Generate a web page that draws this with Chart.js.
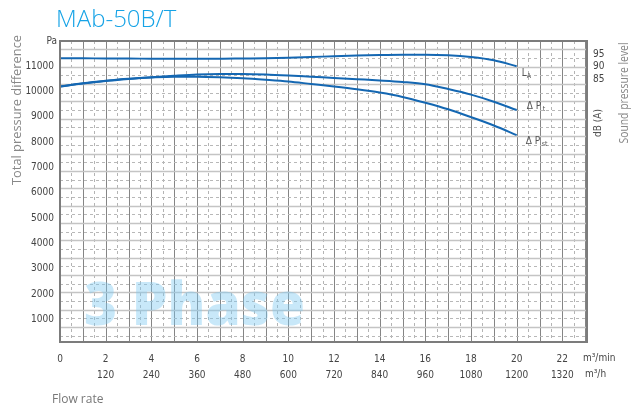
<!DOCTYPE html>
<html><head><meta charset="utf-8">
<script src="https://cdn.jsdelivr.net/npm/chart.js@4.4.1/dist/chart.umd.min.js"></script>
<style>html,body{margin:0;padding:0;background:#fff;}#wrap{width:632px;height:411px;}</style>
</head><body><div id="wrap"><canvas id="c" width="632" height="411"></canvas></div>
<script>
// ---- data ----
const flowRate = [0,1,2,3,4,5,6,7,8,9,10,11,12,13,14,15,16,17,18,19,20]; // m3/min
const totalPressure = [10200,10320,10420,10500,10570,10630,10680,10700,10700,10680,10640,10590,10540,10490,10440,10380,10290,10100,9880,9600,9270]; // Pa (ΔPt)
const staticPressure = [10200,10330,10430,10510,10560,10590,10590,10570,10530,10470,10400,10300,10200,10090,9960,9790,9560,9300,8990,8660,8280]; // Pa (ΔPst)
const soundLevel = [93.4,93.4,93.3,93.3,93.2,93.2,93.2,93.2,93.3,93.4,93.6,93.9,94.2,94.5,94.7,94.8,94.8,94.6,93.9,92.6,90.2]; // dB(A)
const xTicksMin = [0,2,4,6,8,10,12,14,16,18,20,22];
const xTicksHour = ['',120,240,360,480,600,720,840,960,1080,1200,1320];
const yTicksPa = [1000,2000,3000,4000,5000,6000,7000,8000,9000,10000,11000];
const yTicksDb = [85,90,95];

const NARROW = "'Liberation Sans Narrow','DejaVu Sans Condensed','Open Sans',sans-serif";
const SANS = "'Open Sans','Noto Sans',sans-serif";
const BLUE = '#1467b2';

const paper = {
  id: 'paper',
  beforeDatasetsDraw(chart) {
    const {ctx, chartArea: a, scales: {x, y}} = chart;
    ctx.save();
    ctx.beginPath(); ctx.rect(a.left, a.top, a.right - a.left, a.bottom - a.top); ctx.clip();
    // vertical grid: solid every 1, dashed at halves
    for (let v = 0.5; v < x.max; v += 0.5) {
      const px = Math.round(x.getPixelForValue(v)) + 0.5;
      const solid = Math.abs(v - Math.round(v)) < 1e-6;
      ctx.beginPath();
      ctx.setLineDash(solid ? [] : [3, 3]);
      ctx.strokeStyle = solid ? '#858585' : '#b4b4b4';
      ctx.lineWidth = 1;
      ctx.moveTo(px, a.top); ctx.lineTo(px, a.bottom); ctx.stroke();
    }
    // horizontal grid (70 mmAq paper grid)
    const step = 686.5;
    for (let k = 0.5; k * step < y.max; k += 0.5) {
      const v = k * step;
      if (v < y.min) continue;
      const py = Math.round(y.getPixelForValue(v)) + 0.5;
      const solid = Math.abs(k - Math.round(k)) < 1e-6;
      ctx.beginPath();
      ctx.setLineDash(solid ? [] : [3, 3]);
      ctx.strokeStyle = solid ? '#c4c4c4' : '#b8b8b8';
      ctx.lineWidth = solid ? 1.5 : 1;
      ctx.moveTo(a.left, py); ctx.lineTo(a.right, py); ctx.stroke();
    }
    ctx.setLineDash([]);
    // watermark
    ctx.font = "800 60px " + SANS;
    ctx.fillStyle = 'rgba(125,200,240,0.42)';
    ctx.textBaseline = 'alphabetic';
    ctx.textAlign = 'left';
    ctx.fillText('3 Phase', x.getPixelForValue(1.05), y.getPixelForValue(760), 221);
    ctx.restore();
  },
  afterDatasetsDraw(chart) {
    const {ctx, chartArea: a, scales: {x, y, yR}} = chart;
    ctx.save();
    ctx.strokeStyle = '#7c7c7c';
    ctx.lineWidth = 2;
    ctx.strokeRect(a.left, a.top, a.right - a.left, a.bottom - a.top);
    // curve labels
    const ex = x.getPixelForValue(flowRate[flowRate.length - 1]);
    ctx.fillStyle = '#555';
    ctx.textAlign = 'left';
    ctx.textBaseline = 'alphabetic';
    const lay = yR.getPixelForValue(soundLevel[soundLevel.length - 1]);
    ctx.font = "10px " + NARROW; ctx.fillText('L', ex + 5, lay + 10);
    ctx.font = "7px " + NARROW; ctx.fillText('A', ex + 10, lay + 12);
    const pty = y.getPixelForValue(totalPressure[totalPressure.length - 1]);
    ctx.font = "10px " + NARROW; ctx.fillText('Δ P', ex + 10, pty - 1);
    ctx.font = "7px " + NARROW; ctx.fillText('t', ex + 26, pty + 1);
    const psy = y.getPixelForValue(staticPressure[staticPressure.length - 1]);
    ctx.font = "10px " + NARROW; ctx.fillText('Δ P', ex + 9, psy + 9);
    ctx.font = "7px " + NARROW; ctx.fillText('st', ex + 25, psy + 11);
    ctx.restore();
  },
  afterDraw(chart) {
    const {ctx, chartArea: a} = chart;
    ctx.save();
    ctx.textBaseline = 'alphabetic';
    ctx.textAlign = 'left';
    ctx.fillStyle = '#16a3e6';
    ctx.font = "300 24px " + SANS;
    ctx.fillText('MAb-50B/T', 56, 27);
    ctx.fillStyle = '#444';
    ctx.font = "10px " + NARROW;
    ctx.textAlign = 'right';
    ctx.fillText('Pa', a.left - 3, a.top + 3);
    ctx.textAlign = 'left';
    ctx.textBaseline = 'middle';
    ctx.fillText('m³/min', a.right - 4, 358.5);
    ctx.fillText('m³/h', a.right - 2, 374.5);
    ctx.textBaseline = 'alphabetic';
    ctx.fillStyle = '#777';
    ctx.font = "12px " + SANS;
    ctx.fillText('Flow rate', 52, 403, 56);
    // rotated titles
    const rot = (txt, cx, cy, font, color, maxW) => {
      ctx.save();
      ctx.translate(cx, cy); ctx.rotate(-Math.PI / 2);
      ctx.font = font; ctx.fillStyle = color;
      ctx.textAlign = 'center'; ctx.textBaseline = 'middle';
      ctx.fillText(txt, 0, 0, maxW);
      ctx.restore();
    };
    rot('Total pressure difference', 17, 110, "13px " + SANS, '#888', 150);
    rot('Sound pressure level', 625, 93, "12px " + SANS, '#888', 101);
    rot('dB (A)', 598, 123, "10px " + NARROW, '#555', 28);
    ctx.restore();
  }
};

new Chart(document.getElementById('c'), {
  type: 'line',
  data: {
    datasets: [
      {label: 'LA', data: flowRate.map((q, i) => ({x: q, y: soundLevel[i]})), yAxisID: 'yR'},
      {label: 'ΔPt', data: flowRate.map((q, i) => ({x: q, y: totalPressure[i]})), yAxisID: 'y'},
      {label: 'ΔPst', data: flowRate.map((q, i) => ({x: q, y: staticPressure[i]})), yAxisID: 'y'}
    ].map(d => Object.assign(d, {borderColor: BLUE, borderWidth: 2, pointRadius: 0, cubicInterpolationMode: 'monotone', fill: false}))
  },
  options: {
    responsive: false,
    animation: false,
    devicePixelRatio: 1,
    layout: {padding: {top: 41, left: 0, right: 0, bottom: 0}},
    plugins: {legend: {display: false}, tooltip: {enabled: false}},
    scales: {
      x: {
        type: 'linear', min: 0, max: 23.08, position: 'bottom',
        afterBuildTicks: s => { s.ticks = xTicksMin.map(v => ({value: v})); },
        afterFit: s => { s.height = 69; },
        grid: {display: false, drawTicks: false}, border: {display: false},
        ticks: {
          padding: 9, color: '#444', maxRotation: 0, autoSkip: false,
          font: {size: 10, family: NARROW, lineHeight: 1.65},
          callback: (v, i) => i === 0 ? String(xTicksMin[i]) : [String(xTicksMin[i]), String(xTicksHour[i])]
        }
      },
      y: {
        type: 'linear', min: 100, max: 12000, position: 'left',
        afterBuildTicks: s => { s.ticks = yTicksPa.map(v => ({value: v})); },
        afterFit: s => { s.width = 60; },
        grid: {display: false, drawTicks: false}, border: {display: false},
        ticks: {padding: 6, color: '#444', font: {size: 10, family: NARROW}, callback: v => String(v)}
      },
      yR: {
        type: 'linear', min: -20.1, max: 100.3, position: 'right',
        afterBuildTicks: s => { s.ticks = yTicksDb.map(v => ({value: v})); },
        afterFit: s => { s.width = 45; },
        grid: {display: false, drawTicks: false}, border: {display: false},
        ticks: {padding: 6, color: '#444', font: {size: 10, family: NARROW}, callback: v => String(v)}
      }
    }
  },
  plugins: [paper]
});
</script>
</body></html>
